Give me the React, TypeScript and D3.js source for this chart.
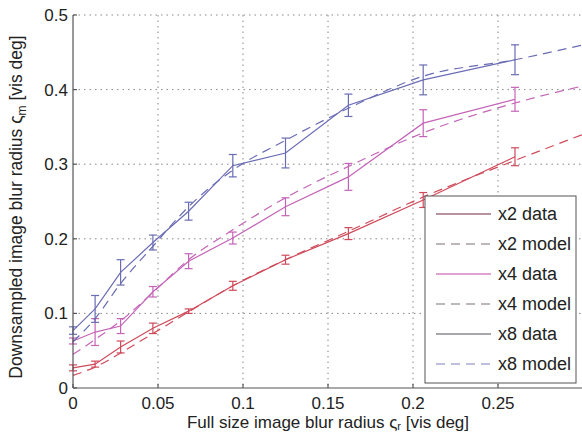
import React from "react";
import { scaleLinear, line, curveMonotoneX } from "d3";

// Data
const blurX = [0, 0.013, 0.028, 0.047, 0.068, 0.094, 0.125, 0.162, 0.206, 0.26];
const modelX = [0, 0.013, 0.028, 0.047, 0.068, 0.094, 0.125, 0.162, 0.206, 0.26, 0.3];

const x2Data = [0.027, 0.032, 0.055, 0.08, 0.103, 0.137, 0.172, 0.207, 0.252, 0.31];
const x2Err = [0.004, 0.004, 0.008, 0.007, 0.003, 0.006, 0.006, 0.008, 0.01, 0.012];
const x2Model = [0.017, 0.028, 0.047, 0.073, 0.102, 0.137, 0.172, 0.21, 0.256, 0.305, 0.34];

const x4Data = [0.063, 0.075, 0.083, 0.129, 0.17, 0.201, 0.243, 0.283, 0.355, 0.387];
const x4Err = [0.004, 0.018, 0.01, 0.007, 0.01, 0.008, 0.012, 0.018, 0.018, 0.016];
const x4Model = [0.045, 0.065, 0.09, 0.128, 0.172, 0.212, 0.255, 0.297, 0.342, 0.382, 0.405];

const x8Data = [0.077, 0.106, 0.155, 0.195, 0.237, 0.298, 0.315, 0.379, 0.413, 0.44];
const x8Err = [0.005, 0.018, 0.017, 0.01, 0.012, 0.015, 0.02, 0.015, 0.02, 0.02];
const x8Model = [0.062, 0.093, 0.14, 0.19, 0.243, 0.292, 0.332, 0.375, 0.418, 0.44, 0.46];

const xTicks = [0, 0.05, 0.1, 0.15, 0.2, 0.25];
const yTicks = [0, 0.1, 0.2, 0.3, 0.4, 0.5];

const series = [
  { name: "x2", color: "#cf4a5a", data: x2Data, err: x2Err, model: x2Model },
  { name: "x4", color: "#c464b8", data: x4Data, err: x4Err, model: x4Model },
  { name: "x8", color: "#6a6cb4", data: x8Data, err: x8Err, model: x8Model },
];

const legendItems = [
  { label: "x2 data", color: "#a07080", dash: "" },
  { label: "x2 model", color: "#a8a0a0", dash: "9,6" },
  { label: "x4 data", color: "#d483c4", dash: "" },
  { label: "x4 model", color: "#a8a0a8", dash: "9,6" },
  { label: "x8 data", color: "#8a8a90", dash: "" },
  { label: "x8 model", color: "#aaaad8", dash: "9,6" },
];

const W = 582;
const H = 433;
const m = { left: 73, right: 582, top: 15, bottom: 388 };

export default function App() {
  const x = scaleLinear().domain([0, 0.3]).range([m.left, m.right + 1]);
  const y = scaleLinear().domain([0, 0.5]).range([m.bottom, m.top]);
  const font = "'Liberation Sans', Arial, sans-serif";

  const mk = (xs: number[]) =>
    line<number>()
      .x((_, i) => x(xs[i]))
      .y((d) => y(d));
  const smooth = (xs: number[]) =>
    line<number>()
      .x((_, i) => x(xs[i]))
      .y((d) => y(d))
      .curve(curveMonotoneX);

  return (
    <svg
      width={W}
      height={H}
      style={{ position: "absolute", left: 0, top: 0, background: "#fff" }}
      fontFamily={font}
    >
      <rect x={0} y={0} width={W} height={H} fill="#fff" />
      {/* grid */}
      <g stroke="#888" strokeWidth={1} strokeDasharray="1.5,4">
        {xTicks.slice(1).map((t) => (
          <line key={"gx" + t} x1={x(t)} x2={x(t)} y1={m.top} y2={m.bottom} />
        ))}
        {yTicks.slice(1).map((t) => (
          <line key={"gy" + t} x1={m.left} x2={W} y1={y(t)} y2={y(t)} />
        ))}
      </g>

      {/* series */}
      {series.map((s) => (
        <g key={s.name} stroke={s.color} fill="none" strokeWidth={1.2}>
          <path d={smooth(modelX)(s.model) || ""} strokeDasharray="9,6" />
          <path d={mk(blurX)(s.data) || ""} />
          {s.data.map((v, i) => {
            const cx = x(blurX[i]);
            return (
              <g key={i}>
                <line x1={cx} x2={cx} y1={y(v - s.err[i])} y2={y(v + s.err[i])} />
                <line x1={cx - 4} x2={cx + 4} y1={y(v - s.err[i])} y2={y(v - s.err[i])} />
                <line x1={cx - 4} x2={cx + 4} y1={y(v + s.err[i])} y2={y(v + s.err[i])} />
              </g>
            );
          })}
        </g>
      ))}

      {/* axes */}
      <g stroke="#555" strokeWidth={1.2}>
        <line x1={m.left} x2={m.left} y1={m.top} y2={m.bottom} />
        <line x1={m.left} x2={W} y1={m.bottom} y2={m.bottom} />
        {xTicks.map((t) => (
          <line key={"tx" + t} x1={x(t)} x2={x(t)} y1={m.bottom} y2={m.bottom - 4} />
        ))}
        {yTicks.map((t) => (
          <line key={"ty" + t} x1={m.left} x2={m.left + 4} y1={y(t)} y2={y(t)} />
        ))}
      </g>
      <g fontSize={17} fill="#222">
        {xTicks.map((t) => (
          <text key={"lx" + t} x={x(t)} y={m.bottom + 21} textAnchor="middle">
            {String(t)}
          </text>
        ))}
        {yTicks.map((t) => (
          <text key={"ly" + t} x={m.left - 5} y={y(t) + 6} textAnchor="end">
            {String(t)}
          </text>
        ))}
      </g>
      <text x={328} y={428} fontSize={17} textAnchor="middle" fill="#222">
        Full size image blur radius ς<tspan fontSize={11} dy={2}>r</tspan>
        <tspan dy={-2}> [vis deg]</tspan>
      </text>
      <text
        transform={`translate(22,${207}) rotate(-90)`}
        fontSize={17.5}
        textAnchor="middle"
        fill="#222"
      >
        Downsampled image blur radius ς<tspan fontSize={12} dy={4}>m</tspan>
        <tspan dy={-4}> [vis deg]</tspan>
      </text>

      {/* legend */}
      <g>
        <rect x={425} y={196} width={151} height={187} fill="#fff" stroke="#555" strokeWidth={1} />
        {legendItems.map((it, i) => {
          const ly = 214 + i * 30;
          return (
            <g key={it.label}>
              <line
                x1={436}
                x2={491}
                y1={ly}
                y2={ly}
                stroke={it.color}
                strokeWidth={1.3}
                strokeDasharray={it.dash || undefined}
              />
              <text x={498} y={ly + 6} fontSize={18} fill="#222">
                {it.label}
              </text>
            </g>
          );
        })}
      </g>
    </svg>
  );
}
